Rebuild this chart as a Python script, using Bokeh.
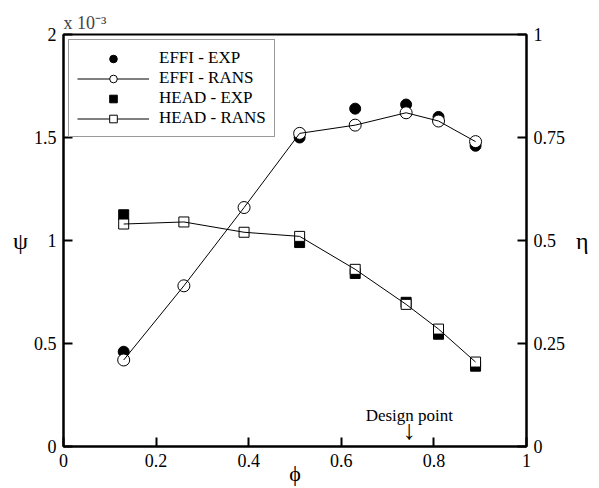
from bokeh.plotting import figure
from bokeh.models import (LinearAxis, Range1d, FixedTicker, CustomJSTickFormatter,
                          Legend, LegendItem, Label)
from bokeh.embed import file_html
from bokeh.resources import INLINE

# ---------------- data ----------------
phi_rans = [0.13, 0.26, 0.39, 0.51, 0.63, 0.74, 0.81, 0.89]
phi_exp = [0.13, 0.51, 0.63, 0.74, 0.81, 0.89]
effi_rans = [0.21, 0.39, 0.58, 0.76, 0.78, 0.81, 0.79, 0.74]
effi_exp = [0.23, 0.75, 0.82, 0.83, 0.80, 0.73]
head_rans = [1.08, 1.09, 1.04, 1.02, 0.86, 0.69, 0.57, 0.41]   # x 10^-3
head_exp = [1.125, 0.99, 0.84, 0.70, 0.545, 0.39]               # x 10^-3
x_ticks = [0, 0.2, 0.4, 0.6, 0.8, 1]
psi_ticks = [0, 0.5, 1, 1.5, 2]
eta_ticks = [0, 0.25, 0.5, 0.75, 1]
design_phi = 0.747

FONT = "Liberation Serif"
TICK_FS = "18px"

p = figure(width=599, height=488, x_range=(0, 1), y_range=(0, 2),
           output_backend="svg", toolbar_location=None,
           min_border_left=63, min_border_right=73, min_border_top=34, min_border_bottom=42)
p.extra_y_ranges = {"eta": Range1d(0, 1)}
p.xgrid.visible = False
p.ygrid.visible = False
p.outline_line_color = "black"
p.outline_line_width = 2
p.background_fill_color = "white"
p.border_fill_color = "white"

fmt = CustomJSTickFormatter(code="return String(Math.round(tick*1000)/1000);")

def style_axis(ax, ticks, label, standoff, label_fs="24px"):
    ax.ticker = FixedTicker(ticks=ticks)
    ax.formatter = fmt
    ax.minor_tick_line_color = None
    ax.major_tick_in = 9
    ax.major_tick_out = 0
    ax.major_tick_line_width = 2
    ax.major_tick_line_color = "black"
    ax.axis_line_width = 2
    ax.axis_line_color = "black"
    ax.major_label_text_font = FONT
    ax.major_label_text_font_size = TICK_FS
    ax.major_label_text_color = "black"
    ax.major_label_standoff = 7
    ax.axis_label = label
    ax.axis_label_text_font = FONT
    ax.axis_label_text_font_size = label_fs
    ax.axis_label_text_font_style = "normal"
    ax.axis_label_text_color = "black"
    ax.axis_label_standoff = standoff
    if "axis_label_orientation" in ax.properties():
        ax.axis_label_orientation = "horizontal"

style_axis(p.xaxis[0], x_ticks, "ϕ", -9, label_fs="22px")
style_axis(p.yaxis[0], psi_ticks, "ψ", 3)
right = LinearAxis(y_range_name="eta")
style_axis(right, eta_ticks, "η", 8)
p.add_layout(right, "right")

p.title.text = "x 10⁻³"
p.title.text_font = FONT
p.title.text_font_size = "18px"
p.title.text_font_style = "normal"
p.title.align = "left"
p.title.standoff = 3
p.title.offset = 0

# ---------------- glyphs ----------------
e_exp = p.scatter(phi_exp, effi_exp, y_range_name="eta", marker="circle", size=11,
                  fill_color="black", line_color="black")
h_exp = p.scatter(phi_exp, head_exp, marker="square", size=10,
                  fill_color="black", line_color="black")
e_rans_m = p.scatter(phi_rans, effi_rans, y_range_name="eta", marker="circle", size=12,
                     fill_color="white", line_color="black", line_width=1)
h_rans_m = p.scatter(phi_rans, head_rans, marker="square", size=10,
                     fill_color="white", line_color="black", line_width=1)
e_rans_l = p.line(phi_rans, effi_rans, y_range_name="eta", line_color="black", line_width=1)
h_rans_l = p.line(phi_rans, head_rans, line_color="black", line_width=1)

legend = Legend(items=[
    LegendItem(label="EFFI - EXP", renderers=[e_exp]),
    LegendItem(label="EFFI - RANS", renderers=[e_rans_l, e_rans_m]),
    LegendItem(label="HEAD - EXP", renderers=[h_exp]),
    LegendItem(label="HEAD - RANS", renderers=[h_rans_l, h_rans_m]),
], location="top_left")
legend.label_text_font = FONT
legend.label_text_font_size = "17px"
legend.label_text_color = "black"
legend.glyph_width = 72
legend.glyph_height = 19
legend.label_height = 19
legend.padding = 8
legend.spacing = 0
legend.margin = 5
legend.label_standoff = 10
legend.border_line_color = "#333333"
legend.border_line_width = 1
legend.background_fill_color = "white"
legend.background_fill_alpha = 1
p.add_layout(legend)

# ---------------- design point ----------------
p.add_layout(Label(x=design_phi, y=0, y_offset=31, text="Design point", text_font=FONT,
                   text_font_size="17px", text_align="center", text_baseline="alphabetic",
                   text_color="black"))
p.add_layout(Label(x=design_phi, y=0, y_offset=2, text="↓", text_font=FONT,
                   text_font_size="27px", text_align="center", text_baseline="bottom",
                   text_color="black"))

open("out.html", "w").write(file_html(p, INLINE))
